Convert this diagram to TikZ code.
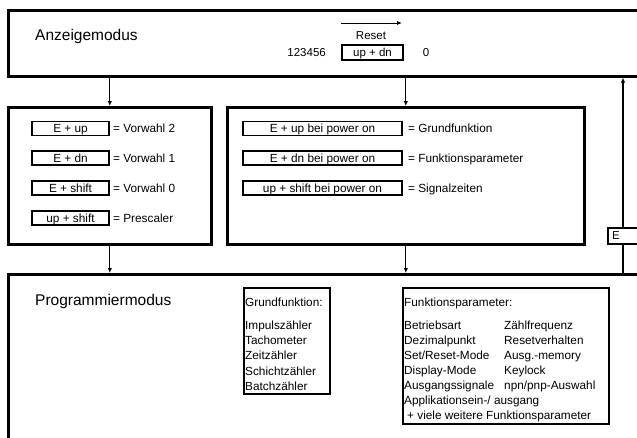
\documentclass[tikz,border=0pt]{standalone}
\usepackage{fontspec}
\setmainfont{Liberation Sans}
\usetikzlibrary{arrows.meta}
\begin{document}
\begin{tikzpicture}[x=1pt,y=-1pt,
  bigbox/.style={draw, line width=2.6pt, inner sep=0pt, anchor=north west},
  keybox/.style={draw, line width=1.8pt, minimum height=14pt, inner sep=0pt, text height=8.4pt, text depth=0pt, font=\fontsize{11.8}{13}\selectfont},
  lbl/.style={anchor=west, inner sep=0pt, text height=8.4pt, text depth=0pt, font=\fontsize{11.8}{13}\selectfont},
  ttl/.style={anchor=west, inner sep=0pt, text height=11.1pt, text depth=0pt, font=\fontsize{15.5}{18}\selectfont},
  smalltxt/.style={inner sep=0pt, text height=8.2pt, text depth=0pt, font=\fontsize{11.5}{13}\selectfont},
  listtxt/.style={anchor=west, inner sep=0pt, text height=8.4pt, text depth=0pt, font=\fontsize{11.8}{13}\selectfont},
  flow/.style={line width=1.2pt, -{Latex[length=5pt,width=4.5pt]}},
]
\useasboundingbox (0,0) rectangle (637,437);
\begin{scope}
\clip (0,0) rectangle (637,437);
% main boxes
\node[bigbox, minimum width=643pt, minimum height=66pt] (anz) at (7,9) {};
\node[bigbox, minimum width=203pt, minimum height=137pt] (lb) at (7,106) {};
\node[bigbox, minimum width=357pt, minimum height=137pt] (mb) at (226,106) {};
\node[bigbox, minimum width=643pt, minimum height=180pt] (prog) at (7,273) {};
% titles
\node[ttl] (t1) at (35,35) {Anzeigemodus};
\node[ttl] (t2) at (35,300) {Programmiermodus};
% reset group
\node[draw, line width=1.8pt, minimum width=61pt, minimum height=15pt, smalltxt] (ud) at (372.5,52.5) {up + dn};
\node[smalltxt] (rs) at (371,35) {Reset};
\node[smalltxt, anchor=east] (num) at (326,52.5) {123456};
\node[smalltxt] (zero) at (426,52.5) {0};
\coordinate (ra) at (341,23);
\coordinate (rb) at (402,23);
\draw[line width=0.8pt, -{Latex[length=5pt,width=4pt]}] (ra) -- (rb);
% left box keys
\node[keybox, minimum width=77pt] (k1) at (70.5,128.5) {E + up};
\node[keybox, minimum width=77pt] (k2) at (70.5,158) {E + dn};
\node[keybox, minimum width=77pt] (k3) at (70.5,188) {E + shift};
\node[keybox, minimum width=77pt] (k4) at (70.5,218) {up + shift};
\node[lbl] (l1) at (113,128.5) {= Vorwahl 2};
\node[lbl] (l2) at (113,158) {= Vorwahl 1};
\node[lbl] (l3) at (113,188) {= Vorwahl 0};
\node[lbl] (l4) at (113,218) {= Prescaler};
% middle box keys
\node[keybox, minimum width=159pt] (m1) at (322.5,128.5) {E + up bei power on};
\node[keybox, minimum width=159pt] (m2) at (322.5,158) {E + dn bei power on};
\node[keybox, minimum width=159pt] (m3) at (322.5,188) {up + shift bei power on};
\node[lbl] (n1) at (408,128.5) {= Grundfunktion};
\node[lbl] (n2) at (408,158) {= Funktionsparameter};
\node[lbl] (n3) at (408,188) {= Signalzeiten};
% connectors
\draw[flow] (anz.south -| lb.north) -- (lb.north);
\draw[flow] (anz.south -| mb.north) -- (mb.north);
\draw[flow] (lb.south) -- (lb.south |- prog.north);
\draw[flow] (mb.south) -- (mb.south |- prog.north);
\coordinate (ret) at (623,0);
\draw[flow] (prog.north -| ret) -- (anz.south -| ret);
\node[draw, fill=white, line width=2.2pt, inner sep=0pt, anchor=north west, minimum width=40pt, minimum height=16pt] (eb) at (607,227) {};
\node[anchor=west, inner sep=0pt, text height=8.2pt, text depth=0pt, font=\fontsize{11.5}{13}\selectfont] (et) at (612,235) {E};
% Grundfunktion box
\node[draw, line width=1.8pt, inner sep=0pt, anchor=north west, minimum width=86pt, minimum height=106pt] (gf) at (243,287) {};
\node[listtxt] (g0) at (245,302.5) {Grundfunktion:};
\node[listtxt] (g1) at (245,325) {Impulszähler};
\node[listtxt] (g2) at (245,340.3) {Tachometer};
\node[listtxt] (g3) at (245,355.6) {Zeitzähler};
\node[listtxt] (g4) at (245,370.9) {Schichtzähler};
\node[listtxt] (g5) at (245,386.2) {Batchzähler};
% Funktionsparameter box
\node[draw, line width=1.8pt, inner sep=0pt, anchor=north west, minimum width=206pt, minimum height=136pt] (fp) at (402,287) {};
\node[listtxt] (f0) at (404,302.5) {Funktionsparameter:};
\node[listtxt] (f1) at (404,325) {Betriebsart};
\node[listtxt] (f2) at (404,340) {Dezimalpunkt};
\node[listtxt] (f3) at (404,355) {Set/Reset-Mode};
\node[listtxt] (f4) at (404,370) {Display-Mode};
\node[listtxt] (f5) at (404,385) {Ausgangssignale};
\node[listtxt] (f6) at (404,400) {Applikationsein-/ ausgang};
\node[listtxt] (f7) at (407,415) {+ viele weitere Funktionsparameter};
\node[listtxt] (h1) at (504,325) {Zählfrequenz};
\node[listtxt] (h2) at (504,340) {Resetverhalten};
\node[listtxt] (h3) at (504,355) {Ausg.-memory};
\node[listtxt] (h4) at (504,370) {Keylock};
\node[listtxt] (h5) at (504,385) {npn/pnp-Auswahl};
\end{scope}
\end{tikzpicture}
\end{document}
